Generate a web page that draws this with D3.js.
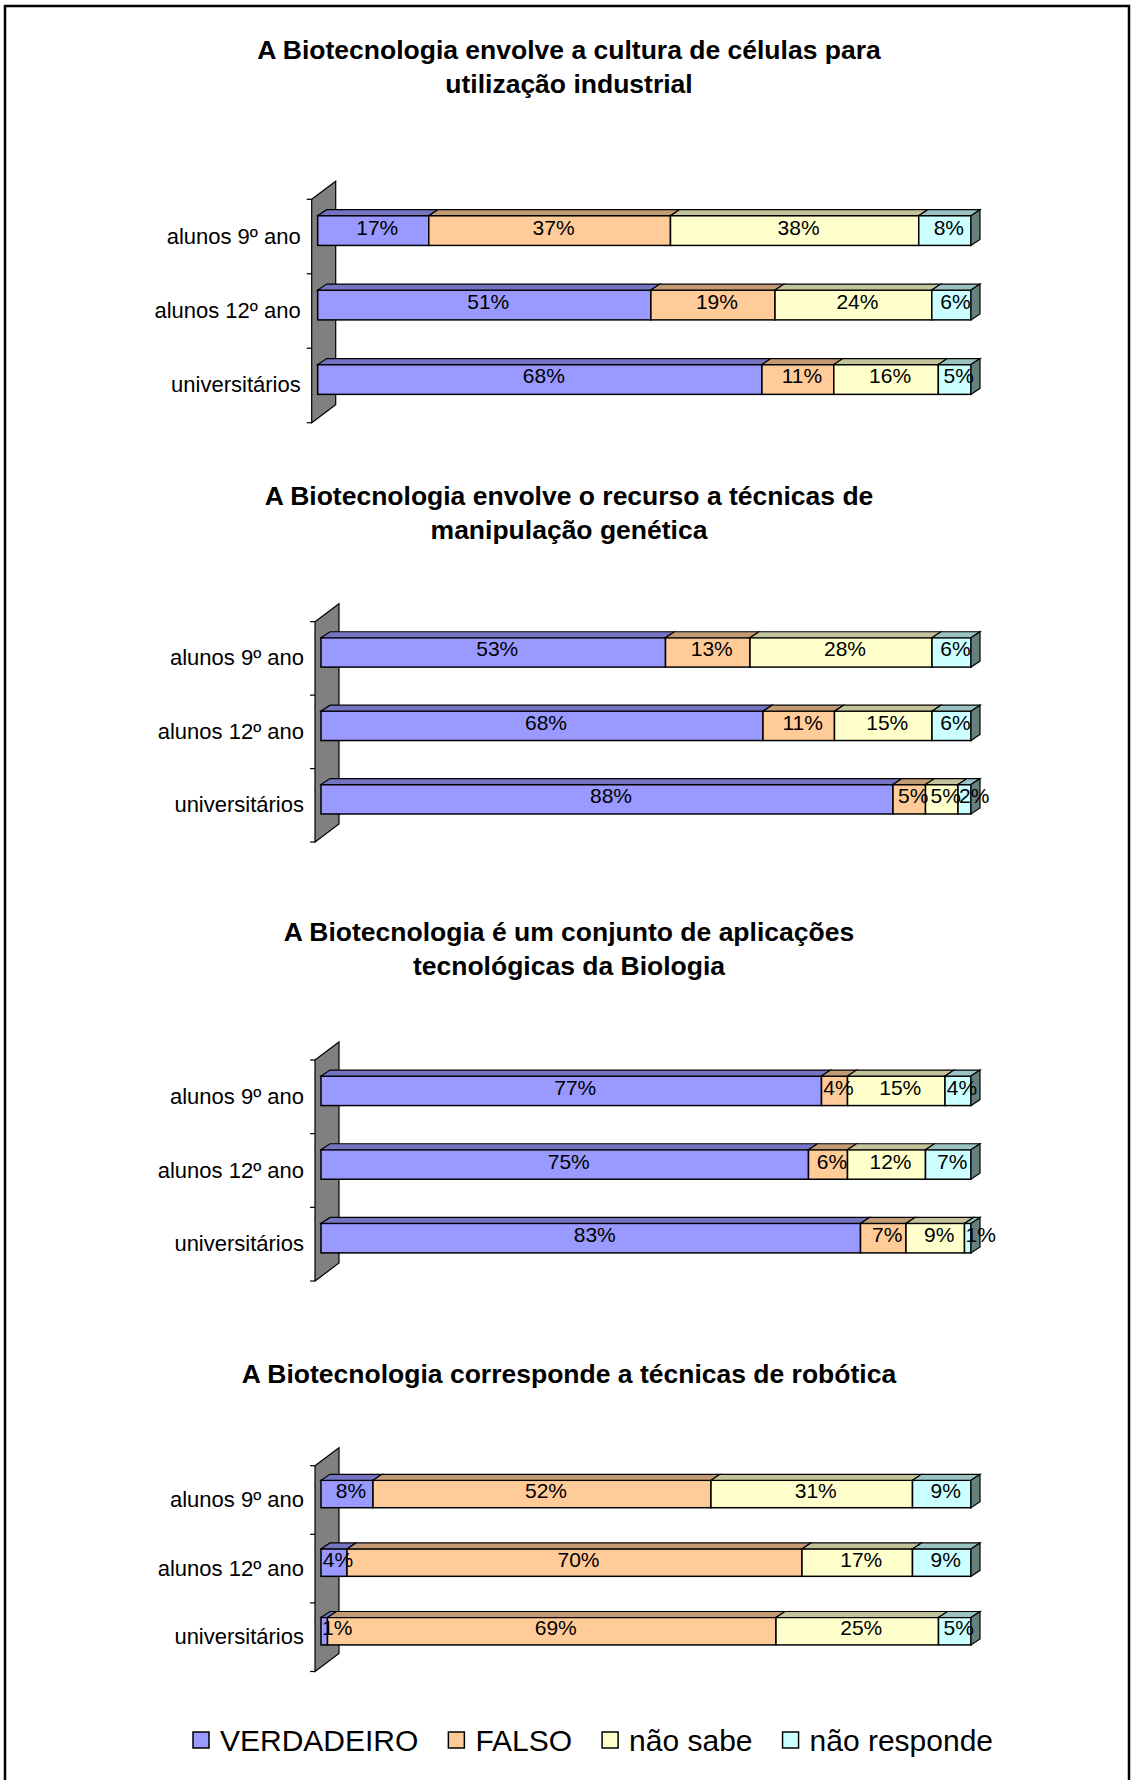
<!DOCTYPE html>
<html>
<head>
<meta charset="utf-8">
<script src="https://cdn.jsdelivr.net/npm/d3@7"></script>
<style>
  body { margin: 0; background: #fff; }
  svg { display: block; }
  text { font-family: "Liberation Sans", Arial, sans-serif; fill: #000; }
</style>
</head>
<body>
<div id="chart"></div>
<script>
// categories and series
var categories = ["alunos 9º ano", "alunos 12º ano", "universitários"];
var seriesNames = ["VERDADEIRO", "FALSO", "não sabe", "não responde"];
var seriesColors = ["#9999FF", "#FFCC99", "#FFFFCC", "#CCFFFF"];

// chart titles
var titles1 = ["A Biotecnologia envolve a cultura de células para", "utilização industrial"];
var titles2 = ["A Biotecnologia envolve o recurso a técnicas de", "manipulação genética"];
var titles3 = ["A Biotecnologia é um conjunto de aplicações", "tecnológicas da Biologia"];
var titles4 = ["A Biotecnologia corresponde a técnicas de robótica"];

// values (%), one row per category, columns follow seriesNames
var values1 = [[17, 37, 38, 8], [51, 19, 24, 6], [68, 11, 16, 5]];
var values2 = [[53, 13, 28, 6], [68, 11, 15, 6], [88, 5, 5, 2]];
var values3 = [[77, 4, 15, 4], [75, 6, 12, 7], [83, 7, 9, 1]];
var values4 = [[8, 52, 31, 9], [4, 70, 17, 9], [1, 69, 25, 5]];

var width = 1134, height = 1780;

// panel layout (positions only)
var panels = [
  { titles: titles1, values: values1, titleY: 58.5, wallX: 311.7, wallTop: 199.3, wallBottom: 422.7 },
  { titles: titles2, values: values2, titleY: 504.5, wallX: 315, wallTop: 621.7, wallBottom: 842 },
  { titles: titles3, values: values3, titleY: 940.5, wallX: 315, wallTop: 1060, wallBottom: 1281 },
  { titles: titles4, values: values4, titleY: 1383, wallX: 315, wallTop: 1465.7, wallBottom: 1671.5 }
];

var wallDepth = { dx: 24, dy: -18 };
var barDepth = { dx: 9, dy: -6 };
var barShift = { dx: 6, dy: -6 };
var barEnd = 971;

var svg = d3.select("#chart")
  .append("svg")
  .attr("width", width)
  .attr("height", height);

// outer frame
svg.append("path")
  .attr("d", "M5," + height + "V6H1129V" + height)
  .attr("fill", "none")
  .attr("stroke", "#000")
  .attr("stroke-width", 2.5);

function shade(c, k) {
  var col = d3.rgb(c);
  return d3.rgb(col.r * k, col.g * k, col.b * k).formatHex();
}

function pts(arr) {
  return arr.map(function (p) { return p[0] + "," + p[1]; }).join(" ");
}

panels.forEach(function (p) {
  var g = svg.append("g");

  // title
  p.titles.forEach(function (line, i) {
    g.append("text")
      .attr("x", 569)
      .attr("y", p.titleY + i * 34)
      .attr("text-anchor", "middle")
      .style("font-size", "26.5px")
      .style("font-weight", "bold")
      .text(line);
  });

  var x = d3.scaleLinear()
    .domain([0, 1])
    .range([p.wallX + barShift.dx, barEnd]);

  var y = d3.scaleBand()
    .domain(categories)
    .range([p.wallTop, p.wallBottom])
    .paddingInner(0.6)
    .paddingOuter(0.3);

  var stacked = d3.stack()
    .keys(d3.range(seriesNames.length))
    .value(function (d, k) { return d[k]; })
    .offset(d3.stackOffsetExpand)(p.values);

  // back wall
  g.append("polygon")
    .attr("points", pts([
      [p.wallX, p.wallTop],
      [p.wallX + wallDepth.dx, p.wallTop + wallDepth.dy],
      [p.wallX + wallDepth.dx, p.wallBottom + wallDepth.dy],
      [p.wallX, p.wallBottom]
    ]))
    .attr("fill", "#808080")
    .attr("stroke", "#000")
    .attr("stroke-width", 1.2);

  // ticks
  var step = (p.wallBottom - p.wallTop) / categories.length;
  d3.range(categories.length + 1).forEach(function (k) {
    g.append("line")
      .attr("x1", p.wallX - 5).attr("x2", p.wallX)
      .attr("y1", p.wallTop + k * step).attr("y2", p.wallTop + k * step)
      .attr("stroke", "#000").attr("stroke-width", 1.2);
  });

  // category labels
  g.selectAll(".cat")
    .data(categories)
    .enter()
    .append("text")
    .attr("x", p.wallX - 11)
    .attr("y", function (d) { return y(d) + y.bandwidth() / 2 + 7; })
    .attr("text-anchor", "end")
    .style("font-size", "22px")
    .text(function (d) { return d; });

  var bw = y.bandwidth();

  categories.forEach(function (cat, i) {
    var top = y(cat) + barShift.dy;
    var row = g.append("g");
    stacked.forEach(function (s, j) {
      var x0 = x(s[i][0]), x1 = x(s[i][1]);
      row.append("rect")
        .attr("x", x0).attr("y", top)
        .attr("width", x1 - x0).attr("height", bw)
        .attr("fill", seriesColors[j])
        .attr("stroke", "#000").attr("stroke-width", 1.5);
      row.append("polygon")
        .attr("points", pts([
          [x0, top], [x1, top],
          [x1 + barDepth.dx, top + barDepth.dy],
          [x0 + barDepth.dx, top + barDepth.dy]
        ]))
        .attr("fill", shade(seriesColors[j], 0.76))
        .attr("stroke", "#000").attr("stroke-width", 1.2);
      if (j === stacked.length - 1) {
        row.append("polygon")
          .attr("points", pts([
            [x1, top], [x1 + barDepth.dx, top + barDepth.dy],
            [x1 + barDepth.dx, top + bw + barDepth.dy], [x1, top + bw]
          ]))
          .attr("fill", shade(seriesColors[j], 0.5))
          .attr("stroke", "#000").attr("stroke-width", 1.2);
      }
    });
  });

  // value labels: centred, but never starting left of the segment
  categories.forEach(function (cat, i) {
    var top = y(cat) + barShift.dy;
    stacked.forEach(function (s, j) {
      var x0 = x(s[i][0]), x1 = x(s[i][1]);
      var t = g.append("text")
        .attr("y", top + bw / 2 + 4)
        .attr("text-anchor", "middle")
        .style("font-size", "21px")
        .text(p.values[i][j] + "%");
      var tw = t.node().getComputedTextLength();
      t.attr("x", Math.max((x0 + x1) / 2 + 4, x0 + tw / 2 + 1));
    });
  });
});

// legend
var legend = svg.append("g");
var lx = 193, ly = 1740;
seriesNames.forEach(function (name, j) {
  legend.append("rect")
    .attr("x", lx).attr("y", ly - 8)
    .attr("width", 16).attr("height", 16)
    .attr("fill", seriesColors[j])
    .attr("stroke", "#000").attr("stroke-width", 1.5);
  var t = legend.append("text")
    .attr("x", lx + 27)
    .attr("y", ly + 11)
    .style("font-size", "30px")
    .text(name);
  lx += 27 + t.node().getComputedTextLength() + 30;
});
</script>
</body>
</html>
